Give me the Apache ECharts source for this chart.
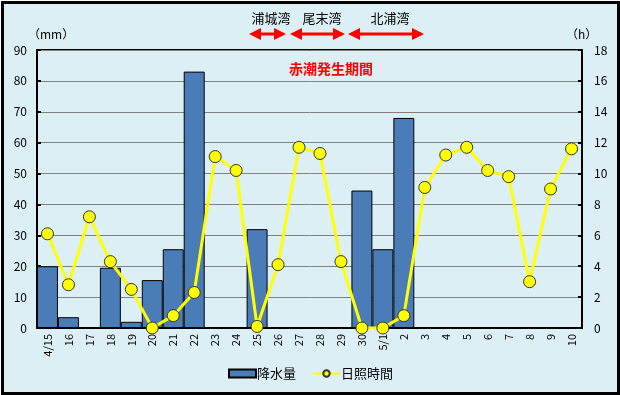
<!DOCTYPE html>
<html><head><meta charset="utf-8">
<script src="https://cdn.jsdelivr.net/npm/echarts@6/dist/echarts.min.js"></script>
<style>
html,body{margin:0;padding:0;background:#fff;}
#c{position:absolute;left:1px;top:1px;width:613px;height:388px;border:3px solid #000;background:#dceff4;}
</style></head><body>
<div id="c"></div>
<script>
const categories = ['4/15','16','17','18','19','20','21','22','23','24','25','26','27','28','29','30','5/1','2','3','4','5','6','7','8','9','10'];
const rainfall = [20,3.5,0,19.5,2,15.5,25.5,83,0,0,32,0,0,0,0,44.5,25.5,68,0,0,0,0,0,0,0,0];
const sunshine = [6.1,2.8,7.2,4.3,2.5,0,0.8,2.3,11.1,10.2,0.1,4.1,11.7,11.3,4.3,0,0,0.8,9.1,11.2,11.7,10.2,9.8,3.0,9.0,11.6];
const leftTicks = {min:0,max:90,interval:10};
const rightTicks = {min:0,max:18,interval:2};
const bays = [
  {name:'浦城湾', from:248, to:285, label:267},
  {name:'尾末湾', from:289, to:344, label:318},
  {name:'北浦湾', from:347, to:423, label:386}
];
const FONT = '"Noto Sans CJK JP", "DejaVu Sans", sans-serif';

const chart = echarts.init(document.getElementById('c'));
const graphics = [];
bays.forEach(b => {
  graphics.push({type:'text', x:b.label, y:8, style:{text:b.name, font:'13px '+FONT, fill:'#000', align:'center', verticalAlign:'top'}});
  graphics.push({type:'line', shape:{x1:b.from+6,y1:30,x2:b.to-6,y2:30}, style:{stroke:'#ff0000', lineWidth:3}});
  graphics.push({type:'polygon', shape:{points:[[b.from-3,30],[b.from+9,24],[b.from+9,36]]}, style:{fill:'#ff0000'}});
  graphics.push({type:'polygon', shape:{points:[[b.to-3,30],[b.to-15,24],[b.to-15,36]]}, style:{fill:'#ff0000'}});
});
graphics.push({type:'text', x:327, y:58, style:{text:'赤潮発生期間', font:'bold 14px '+FONT, fill:'#ff0000', align:'center', verticalAlign:'top'}});
graphics.push({type:'text', x:24, y:24, style:{text:'（mm）', font:'12px '+FONT, fill:'#000'}});
graphics.push({type:'text', x:562, y:24, style:{text:'（h）', font:'12px '+FONT, fill:'#000'}});

chart.setOption({
  animation:false,
  textStyle:{fontFamily:FONT},
  grid:{left:33, right:35, top:46, bottom:64, show:true, borderColor:'#000', borderWidth:2, backgroundColor:'transparent'},
  legend:{
    bottom:7, left:'center', itemGap:16, itemWidth:27, itemHeight:8,
    textStyle:{fontSize:13, color:'#000', fontFamily:FONT, padding:[0,0,0,-4]},
    data:[{name:'降水量', icon:'rect'},{name:'日照時間'}]
  },
  xAxis:{
    type:'category', data:categories, boundaryGap:true,
    axisLine:{lineStyle:{color:'#000', width:2}},
    axisTick:{inside:true, length:4, lineStyle:{color:'#000', width:2}},
    axisLabel:{rotate:90, fontSize:11, color:'#000', margin:6, fontFamily:FONT}
  },
  yAxis:[
    {type:'value', min:leftTicks.min, max:leftTicks.max, interval:leftTicks.interval,
     axisLine:{show:true, lineStyle:{color:'#000', width:2}},
     axisTick:{show:true, inside:true, length:4, lineStyle:{color:'#000', width:2}},
     axisLabel:{fontSize:12, color:'#000', margin:10, fontFamily:FONT},
     splitLine:{show:true, lineStyle:{color:'#808080', width:1}}},
    {type:'value', min:rightTicks.min, max:rightTicks.max, interval:rightTicks.interval,
     axisLine:{show:true, lineStyle:{color:'#000', width:2}},
     axisTick:{show:true, inside:true, length:4, lineStyle:{color:'#000', width:2}},
     axisLabel:{fontSize:12, color:'#000', margin:12, fontFamily:FONT},
     splitLine:{show:false}}
  ],
  series:[
    {name:'降水量', type:'bar', data:rainfall, yAxisIndex:0, barCategoryGap:'0%',
     itemStyle:{color:'#4a7db8', borderColor:'#000', borderWidth:1}},
    {name:'日照時間', type:'line', data:sunshine, yAxisIndex:1,
     symbol:'circle', symbolSize:12,
     lineStyle:{color:'#ffff00', width:3},
     itemStyle:{color:'#ffff00', borderColor:'#333', borderWidth:1}}
  ],
  graphic:graphics
});
</script>
</body></html>
